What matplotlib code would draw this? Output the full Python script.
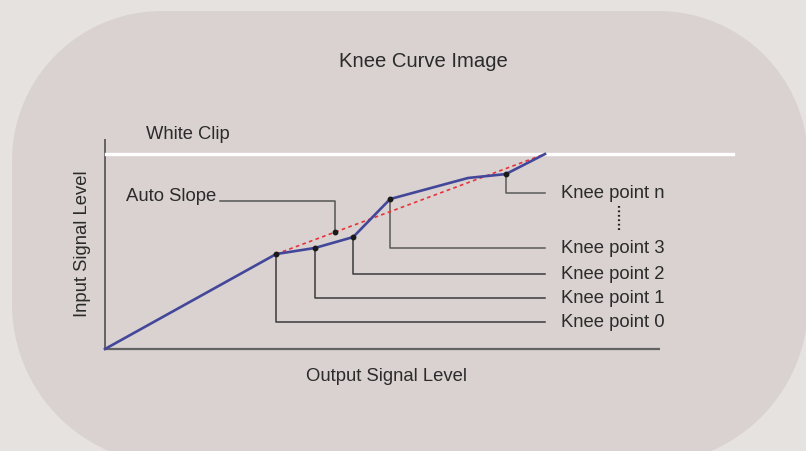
import matplotlib
matplotlib.use('Agg')
import matplotlib.pyplot as plt
import numpy as np
from matplotlib.patches import Polygon

plt.rcParams['font.family'] = ['Liberation Sans', 'DejaVu Sans']

# curve data (output level vs input level, 0..100 = white clip)
curve_x = [0, 38.9, 47.7, 56.4, 64.8, 82.5, 91.1, 100]
curve_y = [0, 48.7, 51.8, 57.4, 76.9, 87.7, 89.7, 100]

knee_names = ['Knee point 0', 'Knee point 1', 'Knee point 2', 'Knee point 3', 'Knee point n']
knee_x = [38.9, 47.7, 56.4, 64.8, 91.1]
knee_y = [48.7, 51.8, 57.4, 76.9, 89.7]
label_y = [13.8, 26.2, 38.5, 51.8, 80.0]

slope_x = [38.9, 100]
slope_y = [48.7, 100]
auto_x, auto_y = 52.3, 60.0

W, H = 806, 452
fig = plt.figure(figsize=(W / 100, H / 100), dpi=100)
fig.patch.set_facecolor('#e6e2df')

# background panel in pixel coordinates (true circular corners)
bg = fig.add_axes([0, 0, 1, 1])
bg.set_xlim(0, W)
bg.set_ylim(H, 0)
bg.axis('off')


def rounded_panel(x0, y0, x1, y1, r_top, r_bot):
    pts = []
    corners = [(x1 - r_bot, y1 - r_bot, r_bot, 0),      # bottom right
               (x0 + r_bot, y1 - r_bot, r_bot, 90),     # bottom left
               (x0 + r_top, y0 + r_top, r_top, 180),    # top left
               (x1 - r_top, y0 + r_top, r_top, 270)]    # top right
    for cx, cy, r, a0 in corners:
        t = np.radians(np.linspace(a0, a0 + 90, 40))
        pts += list(zip(cx + r * np.cos(t), cy + r * np.sin(t)))
    return Polygon(pts, closed=True, fc='#d9d2d0', ec='none')


bg.add_patch(rounded_panel(12, 12, 808, 465, 150, 160))

# chart area: origin at (105, 350) px, 100 at (545, 155) px
ax = fig.add_axes([105 / W, (H - 350) / H, 440 / W, 195 / H])
ax.set_xlim(0, 100)
ax.set_ylim(0, 100)
ax.axis('off')

txt = '#2b2b2b'
axis_c = '#626262'
lead = '#3a3a3a'

# axes
ax.plot([0, 0], [0, 107.7], color=axis_c, lw=1.4, clip_on=False, solid_capstyle='butt')
ax.plot([0, 126.1], [0, 0], color=axis_c, lw=1.6, clip_on=False, solid_capstyle='butt')

# white clip
ax.plot([0.3, 142.7], [100, 100], color='white', lw=2.4, clip_on=False)
ax.text(9.3, 108.2, 'White Clip', fontsize=13.2, color=txt, va='baseline')

# leader lines for knee points
for i, name in enumerate(knee_names):
    c = lead if i < 3 else '#5a5a5a'
    ax.plot([knee_x[i], knee_x[i], 100], [knee_y[i], label_y[i], label_y[i]],
            color=c, lw=1.1, clip_on=False)
    ax.text(103.6, label_y[i] - 2.1, name, fontsize=13.3, color=txt, va='baseline')

# dots between knee point 3 and n
ax.plot([116.8, 116.8], [60.8, 74.4], color='#222222', lw=1.6,
        linestyle=(0, (0.8, 1.2)), clip_on=False)

# auto slope
ax.plot(slope_x, slope_y, color='#e8323c', lw=1.2, linestyle=(0, (2.2, 2.0)), clip_on=False)
ax.plot([auto_x, auto_x, 26.1], [auto_y, 75.9, 75.9], color='#555555', lw=1.1, clip_on=False)
ax.text(25.3, 76.4, 'Auto Slope', fontsize=13.3, color=txt, va='baseline', ha='right')

# knee curve
ax.plot(curve_x, curve_y, color='#43479a', lw=1.9, clip_on=False, solid_joinstyle='round')
ax.plot(knee_x, knee_y, 'o', color='#1a1a1a', ms=3.2, clip_on=False)
ax.plot([auto_x], [auto_y], 'o', color='#1a1a1a', ms=3.2, clip_on=False)

# titles
bg.text(423, 67, 'Knee Curve Image', fontsize=14.6, color=txt, ha='center', va='baseline')
bg.text(386.5, 381, 'Output Signal Level', fontsize=13.3, color=txt, ha='center', va='baseline')
bg.text(87, 244, 'Input Signal Level', fontsize=13.3, color=txt, ha='center', va='baseline',
        rotation=90, rotation_mode='anchor')

fig.savefig('out.png', dpi=100, facecolor=fig.get_facecolor())
